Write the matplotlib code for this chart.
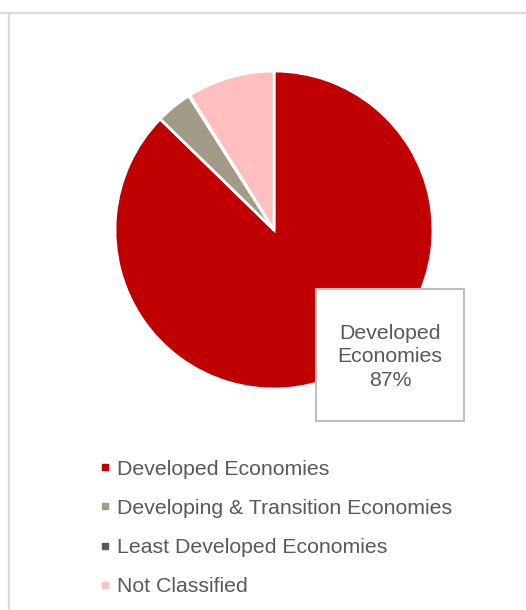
import matplotlib
matplotlib.use("Agg")
import matplotlib.pyplot as plt
from matplotlib.patches import Rectangle
from matplotlib.lines import Line2D

categories = ["Developed Economies", "Developing & Transition Economies",
              "Least Developed Economies", "Not Classified"]
values = [87.3, 3.7, 0.1, 8.9]
colors = ["#c00000", "#a39a88", "#595959", "#ffbfbf"]

plt.rcParams['font.family'] = ['Liberation Sans', 'DejaVu Sans']
W, H = 526, 610
fig = plt.figure(figsize=(W / 100, H / 100), dpi=100)

# frame lines
fig.add_artist(Line2D([0, 1], [1 - 12.5 / H, 1 - 12.5 / H], color="#d9d9d9", lw=1.6))
fig.add_artist(Line2D([9 / W, 9 / W], [0, 1 - 12.5 / H], color="#d9d9d9", lw=1.6))

cx, cy, r = 274, 230, 159
ax = fig.add_axes([(cx - r) / W, (H - cy - r) / H, 2 * r / W, 2 * r / H])
ax.pie(values, colors=colors, startangle=90, counterclock=False,
       wedgeprops=dict(edgecolor="white", linewidth=2))
ax.set_xlim(-1, 1)
ax.set_ylim(-1, 1)
ax.set_aspect("equal")
ax.axis("off")

# data label box
x0, x1 = (316 - cx) / r, (464 - cx) / r
y0, y1 = (cy - 421) / r, (cy - 289) / r
ax.add_patch(Rectangle((x0, y0), x1 - x0, y1 - y0, facecolor="white",
                       edgecolor="#bfbfbf", lw=1.5, clip_on=False, zorder=5))
pct = values[0] / sum(values) * 100
ax.text((x0 + x1) / 2, (y0 + y1) / 2 - 0.01, "Developed\nEconomies\n%d%%" % round(pct),
        ha="center", va="center", fontsize=15.3, color="#595959",
        linespacing=1.3, zorder=6, clip_on=False)

handles = [Line2D([], [], marker="s", linestyle="none", markersize=4.5,
                  markerfacecolor=c, markeredgecolor=c) for c in colors]
fig.legend(handles, categories, loc="upper left",
           bbox_to_anchor=(90 / W, 1 - 449 / H), frameon=False,
           fontsize=15.3, labelcolor="#595959", handlelength=0.45,
           handletextpad=0.3, labelspacing=0.95, borderpad=0)

fig.savefig("out.png", dpi=100, facecolor="white")
